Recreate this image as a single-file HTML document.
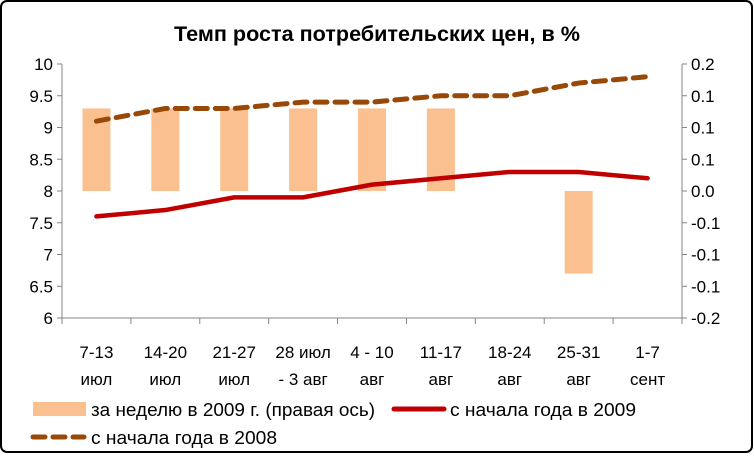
<!DOCTYPE html>
<html><head><meta charset="utf-8"><style>
body{margin:0;background:#fff}
svg text{font-family:"Liberation Sans Narrow","Liberation Sans",sans-serif;fill:#000}
</style></head><body>
<svg width="754" height="454">
<rect x="1" y="1" width="751" height="451" rx="6" fill="#fff" stroke="#000" stroke-width="2"/>
<text x="377" y="41" font-size="21" font-weight="bold" text-anchor="middle" textLength="406" lengthAdjust="spacingAndGlyphs" style="font-family:'Liberation Sans',sans-serif">Темп роста потребительских цен, в %</text>
<g id="plot"></g>
<g>
<rect x="33" y="402" width="53" height="14" fill="#FAC090"/>
<text x="91" y="416" font-size="18" textLength="284" lengthAdjust="spacingAndGlyphs">за неделю в 2009 г. (правая ось)</text>
<line x1="394" y1="409" x2="444" y2="409" stroke="#C00000" stroke-width="5" stroke-linecap="round"/>
<text x="450" y="416" font-size="18" textLength="186" lengthAdjust="spacingAndGlyphs">с начала года в 2009</text>
<line x1="33" y1="437" x2="84" y2="437" stroke="#984807" stroke-width="5" stroke-dasharray="12,8" stroke-linecap="round"/>
<text x="91" y="444" font-size="18" textLength="186" lengthAdjust="spacingAndGlyphs">с начала года в 2008</text>
</g>
</svg>
<script>
const categoriesTop=["7-13","14-20","21-27","28 июл","4 - 10","11-17","18-24","25-31","1-7"];
const categoriesBottom=["июл","июл","июл","- 3 авг","авг","авг","авг","авг","сент"];
const weekly2009=[0.13,0.13,0.13,0.13,0.13,0.13,0,-0.13,0];
const ytd2009=[7.6,7.7,7.9,7.9,8.1,8.2,8.3,8.3,8.2];
const ytd2008=[9.1,9.3,9.3,9.4,9.4,9.5,9.5,9.7,9.8];
const leftTicks=["6","6.5","7","7.5","8","8.5","9","9.5","10"];
const rightTicks=["-0.2","-0.1","-0.1","-0.1","0.0","0.1","0.1","0.1","0.2"];
const NS="http://www.w3.org/2000/svg";
const g=document.getElementById('plot');
const X0=62,X1=682,Y0=64,Y1=318;
const bw=(X1-X0)/categoriesTop.length;
const xc=i=>X0+bw*(i+0.5);
const yL=v=>Y1-(v-6)/4*(Y1-Y0);
const yR=v=>Y1-(v+0.2)/0.4*(Y1-Y0);
function mk(t,a,name){const e=document.createElementNS(NS,t);for(const k in a)e.setAttribute(k,a[k]);


g.appendChild(e);return e;}
mk('line',{x1:X0,y1:Y0,x2:X0,y2:Y1,stroke:'#868686'},'left-axis');
mk('line',{x1:X1,y1:Y0,x2:X1,y2:Y1,stroke:'#868686'},'right-axis');
mk('line',{x1:X0,y1:Y1,x2:X1,y2:Y1,stroke:'#868686'},'x-axis');
leftTicks.forEach((t,i)=>{const y=Y1-i*(Y1-Y0)/8;
mk('line',{x1:X0-5,y1:y,x2:X0,y2:y,stroke:'#868686'},'left-tick');
const e=mk('text',{x:X0-9,y:y+6,'font-size':17,'text-anchor':'end'},'left-tick-label');e.textContent=t;
mk('line',{x1:X1,y1:y,x2:X1+5,y2:y,stroke:'#868686'},'right-tick');
const r=mk('text',{x:X1+9,y:y+6,'font-size':17},'right-tick-label');r.textContent=rightTicks[i];});
for(let i=0;i<=categoriesTop.length;i++){const x=X0+i*bw;mk('line',{x1:x,y1:Y1,x2:x,y2:Y1+6,stroke:'#868686'},'x-tick');}
categoriesTop.forEach((c,i)=>{const a=mk('text',{x:xc(i),y:358,'font-size':17,'text-anchor':'middle'},'x-label');a.textContent=c;
const b=mk('text',{x:xc(i),y:385,'font-size':17,'text-anchor':'middle'},'x-label-2');b.textContent=categoriesBottom[i];});
weekly2009.forEach((v,i)=>{if(!v)return;const y0=yR(0),y=yR(v);
mk('rect',{x:xc(i)-14,y:Math.min(y,y0),width:28,height:Math.abs(y-y0),fill:'#FAC090'},'bar-weekly');});
mk('polyline',{points:ytd2009.map((v,i)=>xc(i)+','+yL(v)).join(' '),fill:'none',stroke:'#C00000','stroke-width':4.5,'stroke-linejoin':'round','stroke-linecap':'round'},'line-2009');
mk('polyline',{points:ytd2008.map((v,i)=>xc(i)+','+yL(v)).join(' '),fill:'none',stroke:'#984807','stroke-width':5,'stroke-dasharray':'12,8','stroke-linecap':'round'},'line-2008');
</script>
</body></html>
